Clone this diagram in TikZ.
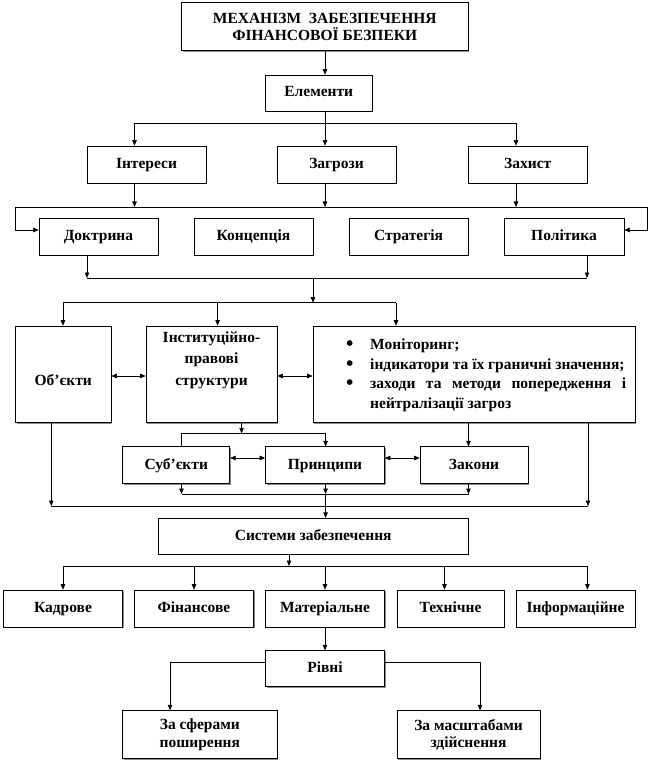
\documentclass[tikz,border=0pt]{standalone}
\usepackage{fontspec}
\setmainfont{Liberation Serif}
\usetikzlibrary{arrows.meta,shadows,calc}
\newcommand\mybox[7][one]{%
  \pgfmathsetmacro\bw{#5-#3}\pgfmathsetmacro\bh{#6-#4}%
  \pgfmathsetmacro\bcx{(#3+#5)/2}\pgfmathsetmacro\bcy{(#4+#6)/2}%
  \node[box, #1, minimum width=\bw pt, minimum height=\bh pt] (#2) at (\bcx,\bcy) {#7};}
\newcommand\bul{\makebox[24pt][l]{\raisebox{-0.8pt}{\scalebox{1.35}{•}}}}
\tikzset{
  boxfont/.style={font=\bfseries\fontsize{15.5}{17.5}\selectfont},
  box/.style={draw=black, line width=0.7pt, fill=white, inner sep=1pt, align=center, boxfont,
    drop shadow={shadow xshift=1.3pt, shadow yshift=-1.3pt, fill=black!45, opacity=1}},
  one/.style={text height=10.5pt, text depth=2.5pt},
  multi/.style={},
  ln/.style={line width=0.6pt, draw=black},
  arr/.style={ln, -{Triangle[length=5.5pt,width=4.5pt]}},
  darr/.style={ln, {Triangle[length=5.5pt,width=4.5pt]}-{Triangle[length=5.5pt,width=4.5pt]}},
}
\begin{document}
\begin{tikzpicture}[x=1pt,y=-1pt]
\useasboundingbox[fill=white] (0,0) rectangle (663,783);
% boxes
\mybox[multi]{title}{181.5}{2.7}{468}{50.7}{МЕХАНІЗМ\ \ ЗАБЕЗПЕЧЕННЯ\\ФІНАНСОВОЇ БЕЗПЕКИ}
\mybox{elem}{265.5}{75}{372}{111}{Елементи}
\mybox{int}{87}{146}{206}{183}{Інтереси}
\mybox{zag}{277}{146}{396}{183}{Загрози}
\mybox{zah}{468.5}{146}{587}{183}{Захист}
\mybox{dok}{39}{218}{158}{255}{Доктрина}
\mybox{kon}{194}{218}{313}{255}{Концепція}
\mybox{str}{349}{218}{468}{255}{Стратегія}
\mybox{pol}{504}{218}{624}{255}{Політика}
\mybox[{text height=23pt, text depth=0pt}]{ob}{15.5}{326}{111}{422.7}{Об’єкти}
\mybox{inst}{146}{326}{277}{422.7}{}
\mybox{mon}{313}{326}{635}{422.7}{}
\mybox{sub}{122.7}{446.7}{229.8}{483.3}{Суб’єкти}
\mybox{pr}{265.5}{446.7}{384.5}{483.3}{Принципи}
\mybox{zak}{420}{446.7}{528}{483.3}{Закони}
\mybox{sys}{158.4}{518.3}{468}{554}{Системи забезпечення}
\mybox{kad}{3.4}{590}{122.7}{627}{Кадрове}
\mybox{fin}{134.5}{590}{253.4}{627}{Фінансове}
\mybox{mat}{265.5}{590}{384.5}{627}{Матеріальне}
\mybox{teh}{397}{590}{504}{627}{Технічне}
\mybox{inf}{516}{590}{635}{627}{Інформаційне}
\mybox{riv}{265.5}{650.7}{384.5}{686.7}{Рівні}
\mybox[multi]{sf}{122.7}{710.7}{277}{758.7}{За сферами\\поширення}
\mybox[multi]{mas}{397}{710.7}{540}{758.7}{За масштабами\\здійснення}
% texts inside tall boxes
\node[anchor=north, align=center, inner sep=0, font=\bfseries\fontsize{15.5}{21.5}\selectfont]
  (insttxt) at ($(inst.north)+(0,5.5)$) {Інституційно-\\правові\\структури};
\node[anchor=north west, align=left, inner sep=0, font=\bfseries\fontsize{15.5}{19.5}\selectfont]
  (montxt) at (346,339) {\bul Моніторинг;\\
  \bul індикатори та їх граничні значення;\\
  \bul\makebox[256pt][s]{заходи та методи попередження і}\\
  \hspace*{24pt}нейтралізації загроз};
% connectors: title -> elements -> interests/threats/protection
\coordinate (a0) at (325,123);
\coordinate (a1) at (134.5,123);
\coordinate (a3) at (516,123);
\draw[arr] (title.south -| a0) -- (a0 |- elem.north);
\draw[ln] (elem.south -| a0) -- (a0);
\draw[ln] (a1) -- (a3);
\draw[arr] (a1) -- (a1 |- int.north);
\draw[arr] (a0) -- (a0 |- zag.north);
\draw[arr] (a3) -- (a3 |- zah.north);
% bus to doctrine row
\coordinate (bL) at (15,207);
\coordinate (bR) at (647,207);
\coordinate (bLd) at (15,230);
\coordinate (bRd) at (647,230);
\draw[ln] (bL) -- (bR);
\draw[arr] (a1 |- int.south) -- (a1 |- bL);
\draw[arr] (a0 |- zag.south) -- (a0 |- bL);
\draw[arr] (a3 |- zah.south) -- (a3 |- bL);
\draw[arr] (bL) -- (bLd) -- (bLd -| dok.west);
\draw[arr] (bR) -- (bRd) -- (bRd -| pol.east);
% bus below doctrine row
\coordinate (c1) at (87,278);
\coordinate (c2) at (587,278);
\coordinate (c0) at (313,278);
\draw[ln] (c1) -- (c2);
\draw[arr] (c1 |- dok.south) -- (c1);
\draw[arr] (c2 |- pol.south) -- (c2);
\coordinate (d0) at (313,302.7);
\coordinate (d1) at (63,302.7);
\coordinate (d2) at (217.6,302.7);
\coordinate (d3) at (396,302.7);
\draw[arr] (c0) -- (d0);
\draw[ln] (d1) -- (d3);
\draw[arr] (d1) -- (d1 |- ob.north);
\draw[arr] (d2) -- (d2 |- inst.north);
\draw[arr] (d3) -- (d3 |- mon.north);
\coordinate (s376) at (0,376);
\draw[darr] (ob.east |- s376) -- (inst.west |- s376);
\draw[darr] (inst.east |- s376) -- (mon.west |- s376);
% institutional -> subjects/principles
\coordinate (e0) at (241.6,433.3);
\coordinate (e1) at (181.5,433.3);
\coordinate (e2) at (325.6,433.3);
\coordinate (e3) at (468.5,433.3);
\draw[arr] (e0 |- inst.south) -- (e0);
\draw[ln] (e1) -- (e2);
\draw[ln] (e1) -- (e1 |- sub.north);
\draw[arr] (e2) -- (e2 |- pr.north);
\draw[arr] (e3 |- mon.south) -- (e3 |- zak.north);
\coordinate (s458) at (0,458);
\draw[darr] (sub.east |- s458) -- (pr.west |- s458);
\draw[darr] (pr.east |- s458) -- (zak.west |- s458);
% buses to systems
\coordinate (f1) at (181.5,494);
\coordinate (f2) at (325.6,494);
\coordinate (f3) at (468.5,494);
\draw[ln] (f1) -- (f3);
\draw[arr] (f1 |- sub.south) -- (f1);
\draw[arr] (f2 |- pr.south) -- (f2);
\draw[arr] (f3 |- zak.south) -- (f3);
\coordinate (g1) at (51.3,506);
\coordinate (g2) at (588,506);
\draw[ln] (g1) -- (g2);
\draw[arr] (g1 |- ob.south) -- (g1);
\draw[arr] (g2 |- mon.south) -- (g2);
\draw[arr] (f2) -- (f2 |- sys.north);
% systems -> kinds
\coordinate (h0) at (289,566);
\coordinate (h1) at (63,566);
\coordinate (h2) at (194,566);
\coordinate (h3) at (325,566);
\coordinate (h4) at (444.5,566);
\coordinate (h5) at (587.4,566);
\draw[arr] (h0 |- sys.south) -- (h0);
\draw[ln] (h1) -- (h5);
\draw[arr] (h1) -- (h1 |- kad.north);
\draw[arr] (h2) -- (h2 |- fin.north);
\draw[arr] (h3) -- (h3 |- mat.north);
\draw[arr] (h4) -- (h4 |- teh.north);
\draw[arr] (h5) -- (h5 |- inf.north);
% levels
\draw[arr] (h3 |- mat.south) -- (h3 |- riv.north);
\coordinate (k1) at (170,662.7);
\coordinate (k2) at (480,662.7);
\draw[arr] (riv.west |- k1) -- (k1) -- (k1 |- sf.north);
\draw[arr] (riv.east |- k2) -- (k2) -- (k2 |- mas.north);
\end{tikzpicture}
\end{document}
